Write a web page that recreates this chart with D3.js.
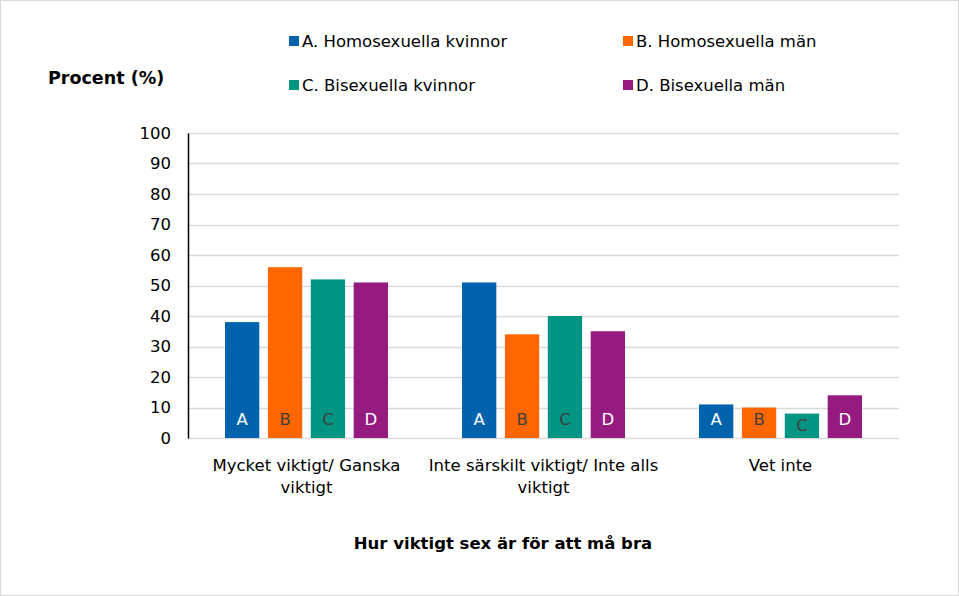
<!DOCTYPE html>
<html>
<head>
<meta charset="utf-8">
<script src="https://cdn.jsdelivr.net/npm/d3@7"></script>
<style>
  body { margin: 0; background: #fff; }
  svg { font-family: "DejaVu Sans", Verdana, sans-serif; }
</style>
</head>
<body>
<div id="chart"></div>
<script>
// data
const categories = [
  ['Mycket viktigt/ Ganska', 'viktigt'],
  ['Inte särskilt viktigt/ Inte alls', 'viktigt'],
  ['Vet inte']
];
const seriesKeys = ['A', 'B', 'C', 'D'];
const seriesNames = ['A. Homosexuella kvinnor', 'B. Homosexuella män', 'C. Bisexuella kvinnor', 'D. Bisexuella män'];
const seriesA = [38, 51, 11];
const seriesB = [56, 34, 10];
const seriesC = [52, 40, 8];
const seriesD = [51, 35, 14];
const yTicks = [0, 10, 20, 30, 40, 50, 60, 70, 80, 90, 100];

const colors = ['#0063ac', '#ff6600', '#009483', '#951b81'];
const labelColors = ['#ffffff', '#404040', '#404040', '#ffffff'];
const fs = 16.5;

const W = 959, H = 596;
const margin = {top: 133, right: 60, bottom: 158, left: 188};
const width = W - margin.left - margin.right;
const height = H - margin.top - margin.bottom;

const svg = d3.select('#chart').append('svg')
    .attr('width', W)
    .attr('height', H);

svg.append('rect')
    .attr('x', 0.5).attr('y', 0.5)
    .attr('width', W - 1).attr('height', H - 1)
    .attr('fill', '#fff')
    .attr('stroke', '#d9d9d9');

const g = svg.append('g')
    .attr('transform', `translate(${margin.left},${margin.top})`);

const x0 = d3.scaleBand()
    .domain(d3.range(categories.length))
    .range([0, width]);

const x1 = d3.scaleBand()
    .domain(seriesKeys)
    .range([37, x0.bandwidth() - 37])
    .paddingInner(0.2);

const y = d3.scaleLinear()
    .domain([0, 100])
    .range([height, 0]);

// gridlines
g.selectAll('.grid')
    .data(yTicks)
  .join('line')
    .attr('class', 'grid')
    .attr('x1', 0).attr('x2', width)
    .attr('y1', d => Math.round(y(d)) + 0.5)
    .attr('y2', d => Math.round(y(d)) + 0.5)
    .attr('stroke', '#d9d9d9')
    .attr('stroke-width', 1.5);

// y axis
const yAxis = g.append('g')
    .call(d3.axisLeft(y).tickValues(yTicks).tickSize(0).tickPadding(17));
yAxis.select('.domain').attr('stroke', '#000').attr('stroke-width', 1.5);
yAxis.selectAll('text')
    .attr('font-size', fs)
    .attr('fill', '#000')
    .attr('font-family', '"DejaVu Sans", Verdana, sans-serif');

const allSeries = [seriesA, seriesB, seriesC, seriesD];
const bars = [];
categories.forEach((c, ci) => {
  seriesKeys.forEach((k, si) => {
    bars.push({ci, si, key: k, value: allSeries[si][ci]});
  });
});

const barG = g.selectAll('.bar')
    .data(bars)
  .join('g')
    .attr('class', 'bar');

barG.append('rect')
    .attr('x', d => x0(d.ci) + x1(d.key))
    .attr('y', d => y(d.value))
    .attr('width', x1.bandwidth())
    .attr('height', d => y(0) - y(d.value))
    .attr('fill', d => colors[d.si]);

barG.append('text')
    .attr('x', d => x0(d.ci) + x1(d.key) + x1.bandwidth() / 2)
    .attr('y', d => Math.max(y(0) - 19, y(d.value) + 11))
    .attr('dy', '0.36em')
    .attr('text-anchor', 'middle')
    .attr('font-size', fs)
    .attr('fill', d => labelColors[d.si])
    .text(d => d.key);

// category labels
const catText = g.selectAll('.cat')
    .data(categories)
  .join('text')
    .attr('class', 'cat')
    .attr('text-anchor', 'middle')
    .attr('font-size', fs)
    .attr('fill', '#000')
    .attr('transform', (d, i) => `translate(${x0(i) + x0.bandwidth() / 2},${height + 33})`);
catText.selectAll('tspan')
    .data(d => d)
  .join('tspan')
    .attr('x', 0)
    .attr('y', (d, i) => i * 22)
    .text(d => d);

// axis titles
svg.append('text')
    .attr('x', 48).attr('y', 84)
    .attr('font-size', 17.5)
    .attr('font-weight', 'bold')
    .text('Procent (%)');

svg.append('text')
    .attr('x', 503).attr('y', 549)
    .attr('text-anchor', 'middle')
    .attr('font-size', fs)
    .attr('font-weight', 'bold')
    .text('Hur viktigt sex är för att må bra');

// legend
const legendPos = [[289, 41], [623, 41], [289, 85], [623, 85]];
const legend = svg.selectAll('.legend')
    .data(seriesNames)
  .join('g')
    .attr('class', 'legend')
    .attr('transform', (d, i) => `translate(${legendPos[i][0]},${legendPos[i][1]})`);
legend.append('rect')
    .attr('x', 0).attr('y', -5)
    .attr('width', 10).attr('height', 10)
    .attr('fill', (d, i) => colors[i]);
legend.append('text')
    .attr('x', 13).attr('dy', '0.36em')
    .attr('font-size', fs)
    .text(d => d);
</script>
</body>
</html>
